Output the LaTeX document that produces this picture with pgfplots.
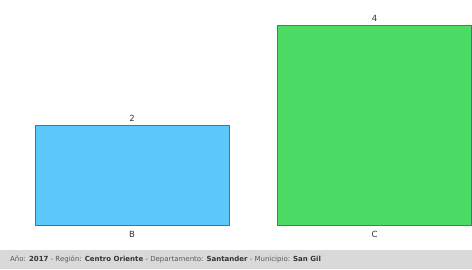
\documentclass[border=0pt]{standalone}
\usepackage{fontspec}
\setmainfont{DejaVu Sans}
\usepackage{pgfplots}
\pgfplotsset{compat=1.18}
\definecolor{barB}{HTML}{5DC8FB}
\definecolor{barC}{HTML}{4CDB65}
\definecolor{edge}{HTML}{6A6A6A}
\definecolor{foot}{HTML}{D9D9D9}
\definecolor{txt}{HTML}{333333}
\begin{document}
\begin{tikzpicture}[x=1pt,y=1pt]
\useasboundingbox (0,0) rectangle (472,269);
\fill[foot] (0,0) rectangle (472,19);
\node[anchor=west,inner sep=0pt,font=\fontsize{7}{8}\selectfont,text=black!65] at (10,9.5)
 {Año: \textbf{\color{txt}2017} - Región: \textbf{\color{txt}Centro Oriente} - Departamento: \textbf{\color{txt}Santander} - Municipio: \textbf{\color{txt}San Gil}};
\begin{axis}[
  at={(0pt,44pt)}, anchor=south west,
  scale only axis, width=472pt, height=225pt,
  xmin=-0.5443, xmax=1.402, ymin=0, ymax=4.5,
  axis line style={draw=none},
  ytick=\empty,
  xtick={0,1}, xticklabels={B,C},
  major tick length=0pt,
  xticklabel style={font=\fontsize{8.5}{9}\selectfont, text=txt, yshift=-3pt},
  clip=false,
  ybar, bar width=194pt, bar shift=0pt,
  nodes near coords,
  /pgf/number format/assume math mode=true,
  nodes near coords style={font=\fontsize{8.5}{9}\selectfont, text=txt},
]
\addplot[fill=barB, draw=edge] coordinates {(0,2)};
\addplot[fill=barC, draw=edge] coordinates {(1,4)};
\end{axis}
\end{tikzpicture}
\end{document}
